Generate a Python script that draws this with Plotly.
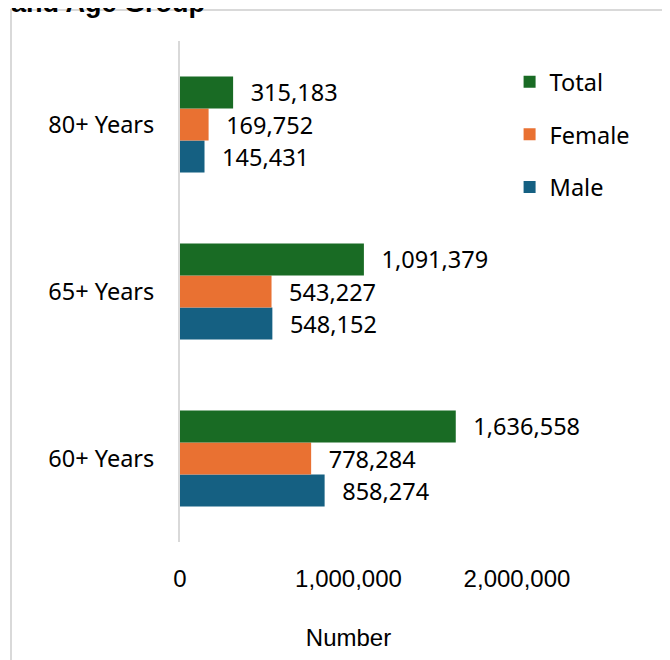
import plotly.graph_objects as go

# data
age_groups = ['60+ Years', '65+ Years', '80+ Years']
male = [858274, 548152, 145431]
female = [778284, 543227, 169752]
total = [1636558, 1091379, 315183]

label_font = 'Noto Sans'
nb = '\u00a0\u00a0\u200a'

fig = go.Figure()
# plotly draws the first trace at the bottom of each group
fig.add_trace(go.Bar(y=age_groups, x=male, name='Male', orientation='h', legendrank=3,
                     marker=dict(color='#156082', line_width=0), legendgroup='m'))
fig.add_trace(go.Bar(y=age_groups, x=female, name='Female', orientation='h', legendrank=2,
                     marker=dict(color='#E97132', line_width=0), legendgroup='f'))
fig.add_trace(go.Bar(y=age_groups, x=total, name='Total', orientation='h', legendrank=1,
                     marker=dict(color='#196B24', line_width=0), legendgroup='t'))

fig.update_traces(texttemplate=nb + '%{x:,}', textposition='outside',
                  constraintext='none', cliponaxis=False,
                  textfont=dict(family=label_font, size=23.5, color='#000000'))

fig.update_layout(
    width=670, height=660,
    margin=dict(l=172, r=161, t=33, b=126, autoexpand=False),
    paper_bgcolor='white', plot_bgcolor='white',
    barmode='group', bargap=0.425, bargroupgap=0,
    showlegend=True,
    legend=dict(traceorder='grouped', tracegroupgap=19,
                x=0.978, xanchor='left', y=0.962, yanchor='top',
                font=dict(family=label_font, size=23.5, color='#000000'),
                bgcolor='rgba(0,0,0,0)'),
    xaxis=dict(range=[0, 2000000], tickvals=[0, 1000000, 2000000],
               ticktext=['0', '1,000,000', '2,000,000'],
               showgrid=False, zeroline=False, showline=False, automargin=False,
               ticklabelstandoff=20,
               tickfont=dict(family='Liberation Sans', size=24, color='#000000'),
               title=dict(text='Number', standoff=38,
                          font=dict(family='Liberation Sans', size=24, color='#000000'))),
    yaxis=dict(showgrid=False, zeroline=False, showline=True, automargin=False,
               linecolor='#d9d9d9', linewidth=2, ticklabelstandoff=19,
               tickfont=dict(family=label_font, size=23.5, color='#000000')),
)

# outer chart border
fig.add_shape(type='rect', xref='paper', yref='paper',
              x0=-0.5015, x1=1.442, y0=-0.3, y1=1.062,
              line=dict(color='#d9d9d9', width=2), layer='below')

# title, cut off at the top of the picture
fig.add_annotation(text='<b>and Age Group</b>', xref='paper', yref='paper',
                   x=-0.506, y=1.042, xanchor='left', yanchor='bottom',
                   showarrow=False,
                   font=dict(family='Liberation Sans', size=27, color='#000000'))

fig.write_html('out.html')
